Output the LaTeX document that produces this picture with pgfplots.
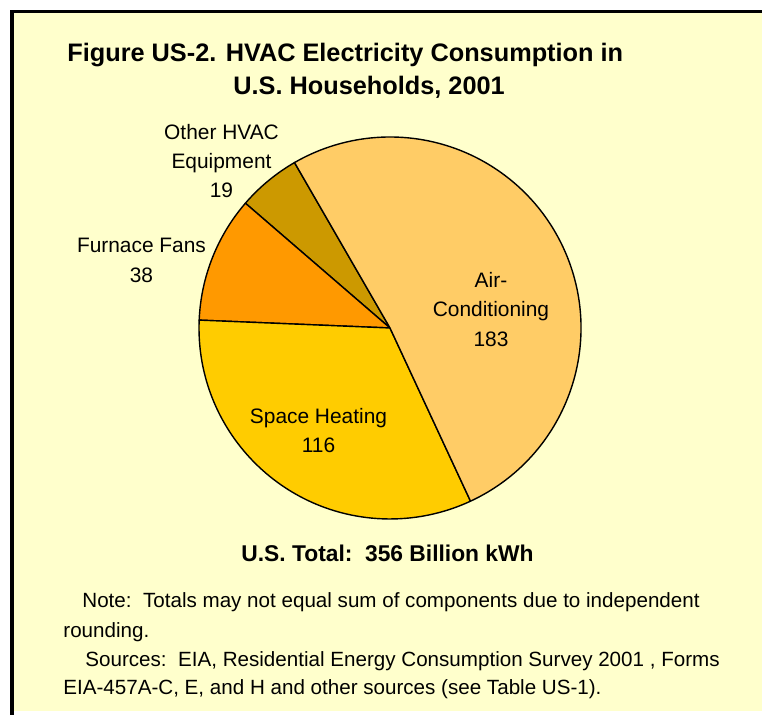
\documentclass[border=0pt]{standalone}
\usepackage{pgfplots}
\pgfplotsset{compat=1.18}
\usepackage{pgfplotstable}
\usepackage{fontspec}
\setmainfont{Liberation Sans}

\definecolor{bgyellow}{RGB}{255,255,204}
\definecolor{pie0}{RGB}{204,153,0}   % other HVAC
\definecolor{pie1}{RGB}{255,153,0}   % furnace fans
\definecolor{pie2}{RGB}{255,204,0}   % space heating
\definecolor{pie3}{RGB}{255,204,102} % air-conditioning

% billion kWh, counterclockwise from 120 deg
\pgfplotstableread{
category value
Other   19
Fans    38
Heating 116
AC      183
}\piedata

\newcommand{\lbl}{\fontsize{10.45}{12}\selectfont}
\newcommand{\ttl}{\bfseries\fontsize{12.65}{14}\selectfont}

\begin{document}
\begin{tikzpicture}
% slice angles from the table
\def\pietotal{0}
\pgfplotsforeachungrouped \i in {0,...,3}{%
  \pgfplotstablegetelem{\i}{value}\of\piedata
  \pgfmathsetmacro\pietotal{\pietotal+\pgfplotsretval}%
}
\def\pieang{120}
\pgfplotsforeachungrouped \i in {0,...,3}{%
  \pgfplotstablegetelem{\i}{value}\of\piedata
  \expandafter\xdef\csname piestart\i\endcsname{\pieang}%
  \pgfmathsetmacro\pieang{\pieang+\pgfplotsretval/\pietotal*360}%
  \expandafter\xdef\csname pieend\i\endcsname{\pieang}%
}
\begin{axis}[
  x=0.5pt, y=0.5pt,
  xmin=0, xmax=762, ymin=0, ymax=715,
  hide axis, clip=false,
]
  % frame
  \fill[white] (axis cs:0,0) rectangle (axis cs:762,715);
  \fill[bgyellow] (axis cs:13,4) rectangle (axis cs:762,702);
  \fill[black] (axis cs:10,701.5) rectangle (axis cs:762,705);
  \fill[black] (axis cs:10,0) rectangle (axis cs:13.5,705);

  % slices
  \pgfplotsinvokeforeach{0,...,3}{%
    \edef\temp{\noexpand\filldraw[fill=pie#1, draw=black, line width=0.7pt, line join=round]
      (axis cs:390,387) -- ([shift={(\csname piestart#1\endcsname:95.5pt)}]axis cs:390,387)
      arc[start angle=\csname piestart#1\endcsname, end angle=\csname pieend#1\endcsname, radius=95.5pt]
      -- cycle;}%
    \temp
  }

  % title
  \node[anchor=base west, inner sep=0pt] at (axis cs:67,653) {\ttl Figure US-2. HVAC Electricity Consumption in};
  \node[anchor=base west, inner sep=0pt] at (axis cs:233,620) {\ttl U.S. Households, 2001};

  % slice labels
  \node[anchor=base, inner sep=0pt] at (axis cs:221.5,575) {\lbl Other HVAC};
  \node[anchor=base, inner sep=0pt] at (axis cs:221.5,546) {\lbl Equipment};
  \node[anchor=base, inner sep=0pt] at (axis cs:221.5,517) {\lbl 19};
  \node[anchor=base, inner sep=0pt] at (axis cs:141.5,462) {\lbl Furnace Fans};
  \node[anchor=base, inner sep=0pt] at (axis cs:141.5,432) {\lbl 38};
  \node[anchor=base, inner sep=0pt] at (axis cs:491,427) {\lbl Air-};
  \node[anchor=base, inner sep=0pt] at (axis cs:491,398) {\lbl Conditioning};
  \node[anchor=base, inner sep=0pt] at (axis cs:491,368) {\lbl 183};
  \node[anchor=base, inner sep=0pt] at (axis cs:318.5,291) {\lbl Space Heating};
  \node[anchor=base, inner sep=0pt] at (axis cs:318.5,262) {\lbl 116};

  % total and notes
  \node[anchor=base west, inner sep=0pt] at (axis cs:241,153) {\bfseries\fontsize{11.4}{13}\selectfont U.S. Total:\ \ 356 Billion kWh};
  \node[anchor=base west, inner sep=0pt] at (axis cs:82,107) {\fontsize{10.3}{12}\selectfont Note:\ \ Totals may not equal sum of components due to independent};
  \node[anchor=base west, inner sep=0pt] at (axis cs:63,77) {\fontsize{10.3}{12}\selectfont rounding.};
  \node[anchor=base west, inner sep=0pt] at (axis cs:85,48) {\fontsize{10.3}{12}\selectfont Sources:\ \ EIA, Residential Energy Consumption Survey 2001 , Forms};
  \node[anchor=base west, inner sep=0pt] at (axis cs:63,20) {\fontsize{10.3}{12}\selectfont EIA-457A-C, E, and H and other sources (see Table US-1).};
\end{axis}
\pgfresetboundingbox
\useasboundingbox (0,0) rectangle (381pt,357.5pt);
\end{tikzpicture}
\end{document}
